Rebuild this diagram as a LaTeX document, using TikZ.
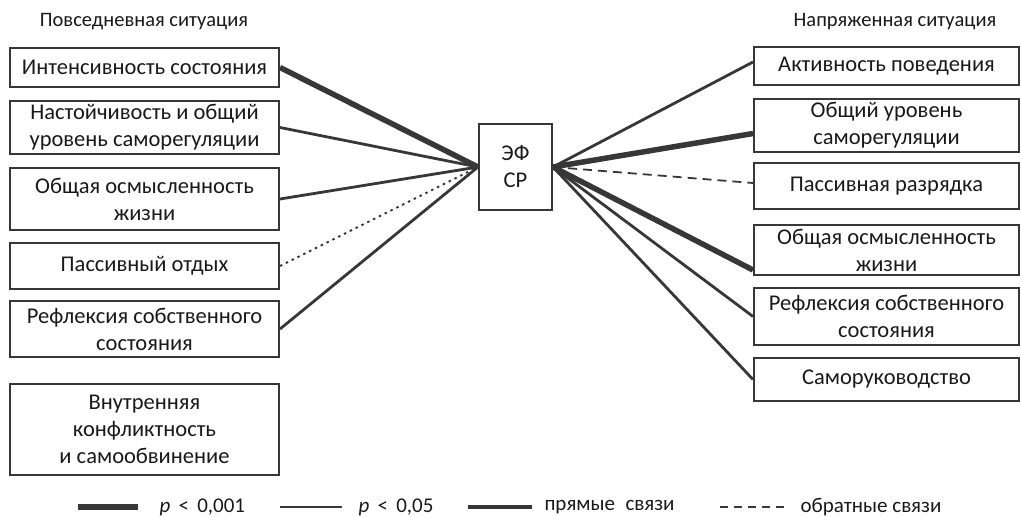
\documentclass[tikz,border=0pt]{standalone}
\usepackage{fontspec}
\setmainfont{Carlito}
\usetikzlibrary{positioning}
\definecolor{LineGray}{RGB}{55,55,55}
\definecolor{TextGray}{RGB}{25,25,25}

\begin{document}
\begin{tikzpicture}[x=1pt,y=-1pt,
        box/.style={draw=LineGray,line width=2pt,align=center,inner sep=2pt,
                    text=TextGray,font=\fontsize{22.5}{27}\selectfont},
        lbox/.style={box,minimum width=269pt},
        rbox/.style={box,minimum width=265pt},
        strong/.style={draw=LineGray,line width=5.5pt},
        weak/.style={draw=LineGray,line width=2.8pt},
        back/.style={draw=LineGray,line width=1.8pt,dash pattern=on 9pt off 6pt},
        backdot/.style={draw=LineGray,line width=1.8pt,dash pattern=on 2.5pt off 4pt},
        head/.style={text=TextGray,font=\fontsize{20.5}{24}\selectfont},
        key/.style={anchor=west,text=TextGray,font=\fontsize{21}{24}\selectfont}
      ]
        \useasboundingbox (0,0) rectangle (1021,517);
        \node[head] (hl) at (144,22) {Повседневная ситуация};
        \node[head] (hr) at (895,22) {Напряженная ситуация};
        % left column
        \node[lbox,minimum height=39pt] (l1) at (144.5,67.5) {Интенсивность состояния};
        \node[lbox,minimum height=53pt] (l2) at (144.5,127.5) {Настойчивость и общий\\уровень саморегуляции};
        \node[lbox,minimum height=62pt] (l3) at (144.5,199) {Общая осмысленность\\жизни};
        \node[lbox,minimum height=46pt] (l4) at (144.5,266) {Пассивный отдых};
        \node[lbox,minimum height=56pt] (l5) at (144.5,329) {Рефлексия собственного\\состояния};
        \node[lbox,minimum height=91pt] (l6) at (144.5,429.5) {Внутренняя\\конфликтность\\и самообвинение};
        % centre
        \node[box,minimum width=73pt,minimum height=86pt] (cs) at (515.5,167) {ЭФ\\СР};
        % right column
        \node[rbox,minimum height=38pt] (r1) at (886.5,66) {Активность поведения};
        \node[rbox,minimum height=53pt] (r2) at (886.5,125.5) {Общий уровень\\саморегуляции};
        \node[rbox,minimum height=46pt] (r3) at (886.5,186) {Пассивная разрядка};
        \node[rbox,minimum height=50pt] (r4) at (886.5,250) {Общая осмысленность\\жизни};
        \node[rbox,minimum height=57pt] (r5) at (886.5,316.5) {Рефлексия собственного\\состояния};
        \node[rbox,minimum height=43pt] (r6) at (886.5,379.5) {Саморуководство};
        % links
        \draw[strong] (l1.east) -- (cs.west);
        \draw[weak] (l2.east) -- (cs.west);
        \draw[weak] (l3.east) -- (cs.west);
        \draw[backdot] (l4.east) -- (cs.west);
        \draw[weak] (l5.east) -- (cs.west);
        \draw[weak] (cs.east) -- ([yshift=4pt]r1.west);
        \draw[strong] (cs.east) -- ([yshift=-8pt]r2.west);
        \draw[back] (cs.east) -- ([yshift=3pt]r3.west);
        \draw[strong] (cs.east) -- ([yshift=6pt]r4.south west);
        \draw[weak] (cs.east) -- (r5.west);
        \draw[weak] (cs.east) -- (r6.west);
        % legend
        \coordinate (k1a) at (78,507);  \coordinate (k1b) at (138,507);
        \coordinate (k2a) at (280,507); \coordinate (k2b) at (342,507);
        \coordinate (k3a) at (468,507); \coordinate (k3b) at (532,507);
        \coordinate (k4a) at (720,507); \coordinate (k4b) at (789,507);
        \draw[strong] (k1a) -- (k1b);
        \draw[draw=LineGray,line width=1.6pt] (k2a) -- (k2b);
        \draw[draw=LineGray,line width=3.2pt] (k3a) -- (k3b);
        \draw[back,dash pattern=on 8pt off 6pt] (k4a) -- (k4b);
        \node[key] (t1) at (156,507) {\textit{p}\, < \,0,001};
        \node[key] (t2) at (355,507) {\textit{p}\, < \,0,05};
        \node[key] (t3) at (541,507) {прямые\enspace связи};
        \node[key] (t4) at (797,507) {обратные связи};
      \end{tikzpicture}
\end{document}
